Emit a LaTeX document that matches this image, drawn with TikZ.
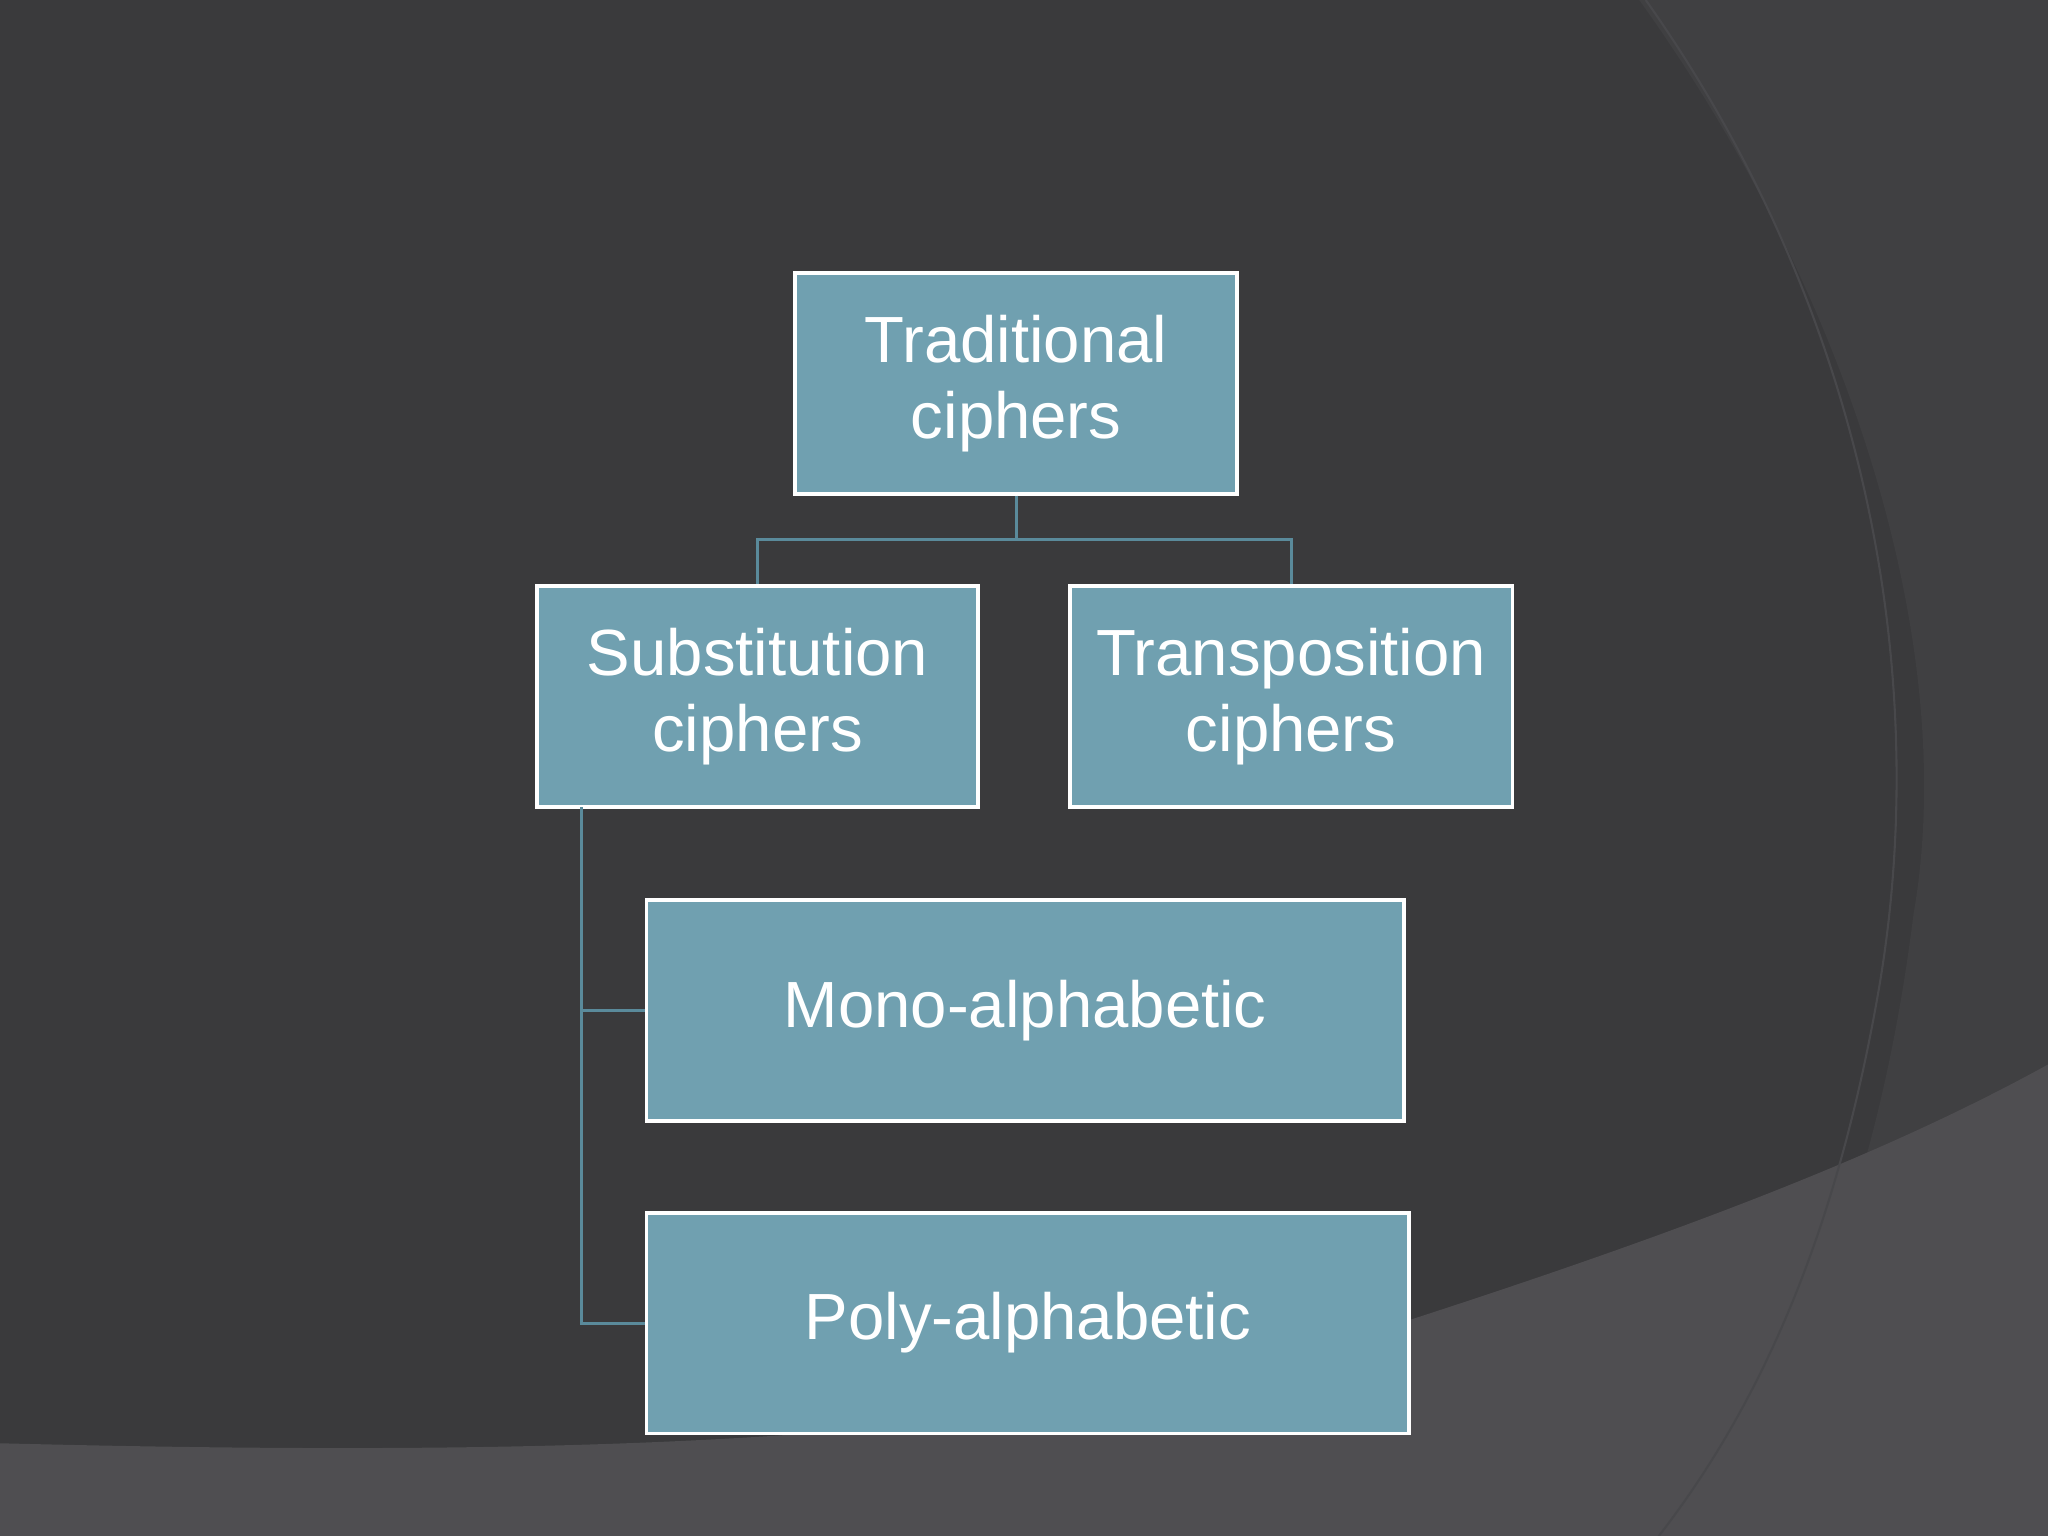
\documentclass[tikz,border=0pt]{standalone}
\usepackage{fontspec}
\setmainfont{Liberation Sans}
\definecolor{bg}{RGB}{58,58,60}
\definecolor{bgb}{RGB}{64,64,66}
\definecolor{bgc}{RGB}{79,78,81}
\definecolor{arcl}{RGB}{72,72,75}
\definecolor{boxf}{RGB}{112,160,176}
\definecolor{lnk}{RGB}{90,138,155}
\begin{document}
\begin{tikzpicture}[x=0.5pt,y=-0.5pt,
  box/.style={draw=white,line width=1.5pt,fill=boxf,text=white,
    font=\fontsize{25}{29}\selectfont,align=center,inner sep=0pt,minimum height=84.5pt},
  link/.style={draw=lnk,line width=1.2pt}]
\useasboundingbox (0,0) rectangle (1568,1176);
\fill[bg] (0,0) rectangle (1568,1176);
\fill[bgb] (1255,0) .. controls (1420,230) and (1500,500) .. (1465,700) .. controls (1440,900) and (1380,1060) .. (1290,1176) -- (1568,1176) -- (1568,0) -- cycle;
\fill[bgc] (0,1105) .. controls (400,1115) and (800,1110) .. (1050,1020) .. controls (1300,940) and (1450,880) .. (1568,815) -- (1568,1176) -- (0,1176) -- cycle;
\draw[arcl,line width=0.8pt] (1260,0) .. controls (1430,240) and (1480,520) .. (1438,760) .. controls (1410,920) and (1360,1060) .. (1270,1176);
\node[box,minimum width=169pt] (trad) at (778,293.5) {Traditional\\ciphers};
\node[box,minimum width=169pt] (sub) at (580,533.5) {Substitution\\ciphers};
\node[box,minimum width=169.5pt] (trans) at (988.5,533.5) {Transposition\\ciphers};
\node[box,minimum width=290pt] (mono) at (785,773.5) {Mono-alphabetic};
\node[box,minimum width=292pt] (poly) at (787,1013) {Poly-alphabetic};
\coordinate (j) at (778,413);
\coordinate (s) at (445,618);
\draw[link] (trad.south) -- (j) -| (sub.north);
\draw[link] (j) -| (trans.north);
\draw[link] (s) |- (poly.west);
\draw[link] (s |- mono.west) -- (mono.west);
\end{tikzpicture}
\end{document}
